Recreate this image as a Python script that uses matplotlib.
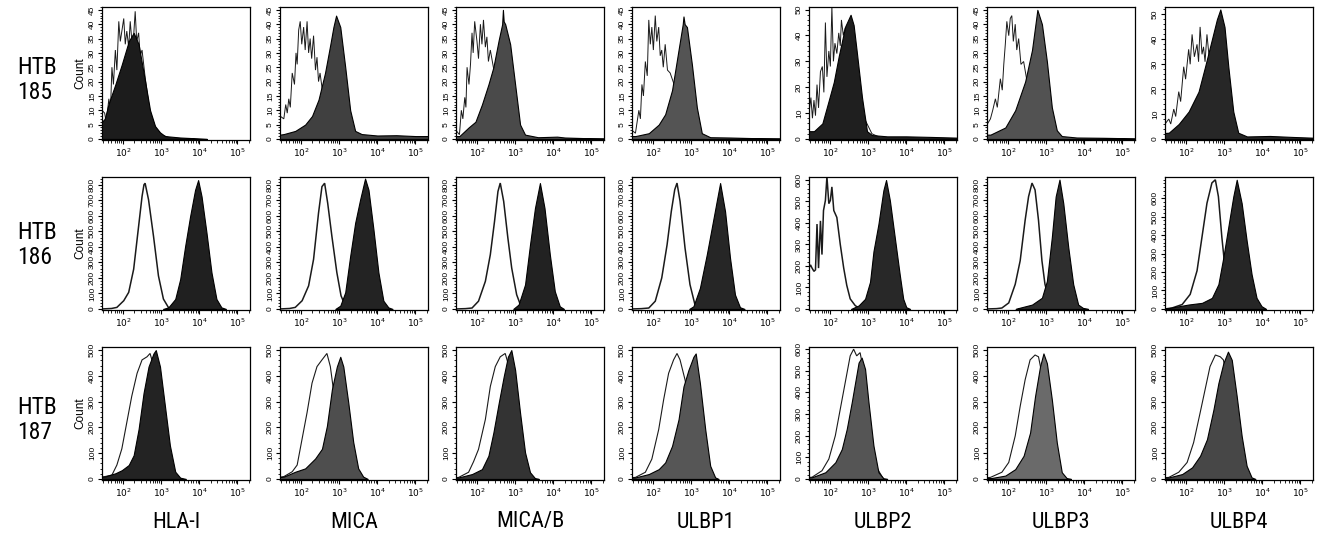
import numpy as np
import matplotlib
matplotlib.use("Agg")
import matplotlib.pyplot as plt
from matplotlib.ticker import LogLocator, MultipleLocator, FixedLocator, NullFormatter
from matplotlib import font_manager

# ---------------- data (log10 fluorescence, count) ----------------
MARKERS = ["HLA-I", "MICA", "MICA/B", "ULBP1", "ULBP2", "ULBP3", "ULBP4"]
CELL_LINES = ["HTB\n185", "HTB\n186", "HTB\n187"]

Y_MAX = [[46, 46, 46, 46, 51, 46, 53],
         [850, 850, 850, 850, 614, 850, 715],
         [512, 512, 512, 512, 610, 512, 512]]
Y_MAJOR = [[5, 5, 5, 5, 10, 5, 10],
           [100, 100, 100, 100, 100, 100, 100],
           [100, 100, 100, 100, 100, 100, 100]]
Y_MINOR = [[1, 1, 1, 1, 2, 1, 2],
           [20, 20, 20, 20, 20, 20, 20],
           [20, 20, 20, 20, 20, 20, 20]]
Y_LABEL_TOP = [[45, 45, 45, 45, 50, 45, 50],
               [800, 800, 800, 800, 600, 800, 600],
               [500, 500, 500, 500, 600, 500, 500]]

FILL_COLORS = [["#1c1c1c", "#404040", "#4a4a4a", "#545454", "#1f1f1f", "#525252", "#272727"],
               ["#202020", "#232323", "#222222", "#262626", "#282828", "#2e2e2e", "#262626"],
               ["#232323", "#4e4e4e", "#333333", "#565656", "#555555", "#6a6a6a", "#474747"]]

# HTB185 isotype control (open histograms)
HTB185_CONTROL = [
    [(1.45, 10), (1.52, 9), (1.56, 5.7), (1.63, 14), (1.67, 9), (1.71, 25), (1.75, 19), (1.8, 31),
     (1.84, 24), (1.89, 41), (1.93, 34), (2.02, 42), (2.06, 33), (2.1, 37.6), (2.15, 32), (2.19, 41),
     (2.24, 33), (2.28, 36), (2.32, 44.5), (2.36, 34), (2.41, 37), (2.45, 29), (2.5, 31), (2.58, 21.6),
     (2.7, 10), (2.85, 4), (3.0, 1.5), (3.3, 0)],
    [(1.45, 8), (1.55, 7), (1.6, 12), (1.64, 9), (1.68, 14), (1.72, 11), (1.77, 23), (1.83, 19),
     (1.87, 30), (1.9, 26), (1.94, 38), (1.98, 41), (2.02, 33), (2.07, 39), (2.11, 31), (2.16, 41),
     (2.2, 30), (2.24, 35), (2.28, 28), (2.33, 36), (2.38, 24), (2.42, 28.5), (2.46, 20), (2.5, 23),
     (2.59, 14), (2.7, 9), (2.85, 4), (3.0, 2), (3.3, 1), (3.6, 0)],
    [(1.45, 3), (1.54, 1.5), (1.59, 10), (1.63, 7), (1.68, 14.5), (1.71, 11), (1.74, 25), (1.79, 19),
     (1.83, 26), (1.87, 37), (1.9, 30), (1.94, 41), (2.0, 34), (2.04, 28), (2.09, 40), (2.13, 33),
     (2.17, 41.5), (2.22, 32), (2.26, 35.6), (2.3, 27), (2.35, 31), (2.43, 25), (2.52, 21.5),
     (2.65, 12), (2.8, 5), (3.0, 1.5), (3.3, 0)],
    [(1.45, 3), (1.54, 2), (1.63, 10), (1.67, 7), (1.71, 19), (1.75, 15), (1.8, 27), (1.85, 22),
     (1.89, 41.5), (1.93, 33), (1.97, 39), (2.01, 31), (2.06, 43), (2.1, 34), (2.15, 39), (2.19, 29),
     (2.23, 31), (2.27, 25), (2.32, 33), (2.38, 24), (2.45, 23), (2.58, 18), (2.7, 10), (2.85, 4),
     (3.0, 1.5), (3.3, 0)],
    [(1.45, 10), (1.5, 16), (1.54, 8), (1.58, 15), (1.62, 9), (1.66, 21), (1.7, 12), (1.75, 26),
     (1.8, 28), (1.84, 18), (1.88, 45), (1.92, 24), (1.97, 34), (2.01, 28), (2.05, 51), (2.09, 30),
     (2.13, 37), (2.18, 33), (2.23, 41), (2.27, 36), (2.3, 46), (2.35, 40), (2.4, 43), (2.5, 40),
     (2.7, 25), (2.9, 8), (3.1, 2), (3.4, 0)],
    [(1.45, 5), (1.54, 7), (1.6, 10), (1.67, 14), (1.72, 11), (1.8, 21), (1.85, 17), (1.89, 26),
     (1.93, 33), (1.97, 41), (2.02, 36), (2.06, 42), (2.1, 43), (2.14, 34), (2.19, 40), (2.23, 31),
     (2.28, 35), (2.34, 26), (2.41, 27), (2.5, 20), (2.62, 14), (2.75, 8), (2.9, 3), (3.1, 1), (3.4, 0)],
    [(1.45, 6), (1.55, 8), (1.6, 6), (1.68, 12), (1.73, 9), (1.81, 19), (1.86, 15), (1.94, 29),
     (1.99, 24), (2.07, 36), (2.11, 30), (2.16, 42), (2.22, 33), (2.29, 38), (2.33, 31), (2.37, 45),
     (2.42, 34), (2.46, 37), (2.5, 31), (2.55, 42), (2.6, 34), (2.75, 25), (2.9, 12), (3.1, 3), (3.4, 0)],
]
# HTB185 stained (filled histograms)
HTB185_STAINED = [
    [(1.45, 6), (1.52, 7), (1.63, 12.5), (1.8, 19), (1.97, 26), (2.15, 34), (2.28, 37), (2.41, 33),
     (2.58, 20), (2.71, 10), (2.84, 4.5), (2.97, 2.3), (3.1, 1), (3.5, 0.5), (3.8, 0.3), (4.2, 0)],
    [(1.45, 1.5), (1.55, 1.7), (1.85, 2.8), (2.11, 5), (2.29, 8), (2.46, 13.7), (2.63, 23),
     (2.77, 33), (2.85, 39), (2.92, 43), (3.03, 39), (3.16, 25), (3.29, 10), (3.42, 2.8), (3.59, 1.7),
     (4.0, 1.2), (4.5, 1.3), (5.0, 1.0), (5.33, 1.0)],
    [(1.45, 1), (1.54, 1), (1.78, 4), (1.96, 6), (2.13, 12), (2.3, 19), (2.43, 25), (2.57, 34.5),
     (2.66, 40), (2.68, 45), (2.7, 41), (2.74, 40), (2.87, 33), (3.0, 19), (3.13, 5), (3.26, 1.5),
     (3.6, 0.6), (4.1, 0.8), (4.3, 0.5), (4.8, 0.3), (5.33, 0.2)],
    [(1.45, 1), (1.54, 1), (1.89, 2), (2.15, 5), (2.32, 8.6), (2.5, 17), (2.67, 31), (2.78, 40),
     (2.8, 42.7), (2.83, 40), (2.89, 39), (3.02, 26), (3.15, 11), (3.28, 2), (3.5, 0.6), (4.0, 0.5),
     (4.6, 0.3), (5.33, 0.2)],
    [(1.45, 3), (1.58, 3), (1.8, 6), (1.97, 15), (2.1, 22), (2.23, 32), (2.4, 43.5), (2.54, 48),
     (2.62, 44), (2.7, 34), (2.84, 16), (2.97, 3), (3.1, 1.5), (3.5, 1), (4.0, 1), (4.6, 0.8),
     (5.33, 0.5)],
    [(1.45, 1.5), (1.54, 1.5), (1.93, 4), (2.19, 10), (2.45, 20), (2.63, 31), (2.71, 39), (2.77, 45),
     (2.89, 40), (3.02, 27), (3.15, 11), (3.28, 3), (3.41, 1), (3.8, 0.5), (4.5, 0.4), (5.33, 0.2)],
    [(1.45, 2.4), (1.55, 2.5), (1.81, 6), (2.07, 11), (2.33, 19), (2.5, 29), (2.68, 40), (2.81, 48),
     (2.9, 52), (3.01, 45), (3.11, 29), (3.24, 11), (3.37, 2.5), (3.6, 1), (4.2, 1.2), (4.8, 0.8),
     (5.33, 0.5)],
]
# HTB186 isotype control
HTB186_CONTROL = [
    [(1.45, 0), (1.7, 3), (1.84, 10), (2.02, 53), (2.15, 107), (2.28, 256), (2.41, 533), (2.5, 725),
     (2.55, 800), (2.58, 810), (2.67, 704), (2.8, 469), (2.93, 213), (3.06, 64), (3.19, 10), (3.3, 0)],
    [(1.45, 0), (1.7, 3), (1.85, 10), (2.03, 53), (2.2, 149), (2.33, 320), (2.46, 618), (2.55, 788),
     (2.62, 810), (2.7, 682), (2.81, 469), (2.94, 235), (3.05, 85), (3.16, 21), (3.3, 0)],
    [(1.45, 0), (1.7, 2), (1.87, 6), (2.04, 50), (2.22, 178), (2.35, 350), (2.46, 564), (2.55, 757),
     (2.61, 811), (2.7, 693), (2.81, 457), (2.91, 264), (3.04, 92), (3.17, 6), (3.3, 0)],
    [(1.45, 0), (1.7, 2), (1.89, 6), (2.06, 50), (2.23, 200), (2.37, 414), (2.48, 628), (2.57, 768),
     (2.63, 811), (2.71, 693), (2.84, 393), (2.97, 157), (3.1, 28), (3.25, 0)],
    [(1.45, 190), (1.49, 205), (1.53, 190), (1.58, 175), (1.62, 182), (1.66, 395), (1.7, 190),
     (1.75, 410), (1.79, 253), (1.83, 458), (1.88, 505), (1.92, 616), (1.97, 490), (2.01, 505),
     (2.05, 568), (2.1, 458), (2.18, 426), (2.27, 300), (2.36, 190), (2.44, 110), (2.53, 47),
     (2.66, 16), (2.79, 0)],
    [(1.45, 0), (1.7, 2), (1.84, 6), (2.02, 39), (2.19, 159), (2.32, 311), (2.45, 572), (2.54, 724),
     (2.63, 811), (2.71, 767), (2.8, 572), (2.89, 311), (2.97, 159), (3.1, 39), (3.23, 6), (3.35, 0)],
    [(1.45, 0), (1.63, 5), (1.9, 24), (2.11, 79), (2.29, 207), (2.42, 390), (2.55, 573), (2.68, 683),
     (2.77, 700), (2.85, 609), (2.94, 390), (3.03, 207), (3.11, 79), (3.24, 15), (3.35, 0)],
]
# HTB186 stained
HTB186_STAINED = [
    [(3.05, 0), (3.19, 10), (3.37, 64), (3.5, 192), (3.63, 405), (3.76, 597), (3.89, 767), (3.97, 830),
     (4.06, 725), (4.19, 490), (4.32, 235), (4.45, 64), (4.58, 10), (4.7, 0)],
    [(2.9, 0), (3.03, 21), (3.16, 107), (3.29, 341), (3.42, 554), (3.55, 704), (3.68, 840), (3.77, 767),
     (3.9, 512), (4.03, 235), (4.16, 53), (4.29, 10), (4.4, 0)],
    [(2.95, 0), (3.09, 28), (3.26, 157), (3.39, 414), (3.52, 650), (3.65, 811), (3.77, 650), (3.91, 350),
     (4.04, 114), (4.17, 17), (4.28, 0)],
    [(2.95, 0), (3.06, 17), (3.23, 135), (3.41, 350), (3.54, 521), (3.67, 693), (3.76, 811), (3.89, 628),
     (4.02, 328), (4.15, 92), (4.28, 11), (4.4, 0)],
    [(2.55, 0), (2.75, 16), (2.92, 47), (3.05, 126), (3.14, 268), (3.27, 395), (3.4, 552), (3.47, 600),
     (3.57, 505), (3.7, 331), (3.83, 158), (3.92, 47), (4.0, 8), (4.1, 0)],
    [(2.2, 0), (2.28, 6), (2.63, 28), (2.89, 72), (3.02, 180), (3.15, 463), (3.25, 724), (3.35, 833),
     (3.45, 680), (3.58, 398), (3.71, 159), (3.84, 28), (3.97, 6), (4.1, 0)],
    [(1.45, 4), (1.55, 5), (2.07, 24), (2.42, 33), (2.68, 60), (2.85, 134), (2.98, 280), (3.11, 445),
     (3.24, 609), (3.33, 700), (3.46, 573), (3.59, 371), (3.72, 188), (3.85, 60), (3.98, 15), (4.1, 0)],
]
# HTB187 isotype control
HTB187_CONTROL = [
    [(1.45, 8), (1.52, 9), (1.71, 15), (1.84, 54), (1.97, 117), (2.1, 219), (2.23, 321), (2.37, 410),
     (2.5, 462), (2.63, 474), (2.71, 487), (2.8, 440), (2.95, 250), (3.1, 80), (3.3, 10), (3.5, 0)],
    [(1.45, 7), (1.55, 9), (1.77, 28), (1.9, 54), (2.03, 156), (2.16, 258), (2.29, 372), (2.42, 436),
     (2.55, 462), (2.68, 487), (2.77, 436), (2.85, 347), (2.94, 232), (3.03, 117), (3.2, 20), (3.4, 0)],
    [(1.45, 5), (1.52, 6), (1.78, 26), (1.91, 67), (2.04, 115), (2.22, 231), (2.35, 359), (2.48, 436),
     (2.61, 474), (2.74, 487), (2.85, 430), (3.0, 250), (3.15, 80), (3.35, 5), (3.5, 0)],
    [(1.45, 5), (1.54, 6), (1.8, 26), (1.97, 77), (2.15, 192), (2.28, 308), (2.41, 410), (2.54, 462),
     (2.63, 487), (2.71, 462), (2.84, 385), (2.95, 300), (3.1, 120), (3.3, 15), (3.45, 0)],
    [(1.45, 7), (1.53, 8), (1.79, 38), (1.97, 92), (2.14, 200), (2.27, 323), (2.4, 446), (2.53, 569),
     (2.62, 600), (2.7, 569), (2.79, 584), (2.9, 480), (3.05, 250), (3.2, 60), (3.4, 0)],
    [(1.45, 5), (1.54, 6), (1.84, 26), (2.02, 64), (2.19, 167), (2.32, 282), (2.45, 385), (2.58, 462),
     (2.71, 481), (2.8, 474), (2.9, 400), (3.05, 200), (3.2, 50), (3.4, 0)],
    [(1.45, 5), (1.55, 6), (1.81, 26), (2.03, 64), (2.2, 141), (2.37, 256), (2.5, 346), (2.63, 436),
     (2.77, 481), (2.9, 474), (2.98, 462), (3.1, 380), (3.3, 150), (3.5, 30), (3.7, 0)],
]
# HTB187 stained
HTB187_STAINED = [
    [(1.45, 8), (1.52, 9), (1.8, 22), (1.97, 34), (2.15, 54), (2.28, 92), (2.41, 194), (2.54, 334),
     (2.67, 436), (2.8, 487), (2.86, 500), (2.97, 436), (3.1, 283), (3.23, 130), (3.37, 28), (3.5, 5),
     (3.65, 0)],
    [(1.45, 7), (1.55, 9), (1.85, 28), (2.11, 41), (2.37, 79), (2.55, 117), (2.68, 206), (2.81, 347),
     (2.94, 436), (3.03, 474), (3.11, 436), (3.24, 296), (3.37, 143), (3.5, 41), (3.63, 9), (3.75, 0)],
    [(1.45, 5), (1.52, 6), (1.87, 19), (2.13, 38), (2.3, 90), (2.43, 180), (2.57, 295), (2.7, 397),
     (2.81, 474), (2.9, 500), (3.0, 423), (3.13, 256), (3.26, 103), (3.39, 26), (3.52, 3), (3.62, 0)],
    [(1.45, 5), (1.54, 6), (1.89, 19), (2.15, 38), (2.32, 64), (2.5, 128), (2.67, 231), (2.8, 359),
     (2.93, 423), (3.06, 474), (3.12, 487), (3.23, 372), (3.37, 192), (3.5, 51), (3.63, 6), (3.72, 0)],
    [(1.45, 7), (1.53, 8), (1.88, 31), (2.14, 77), (2.31, 138), (2.44, 231), (2.57, 354), (2.66, 446),
     (2.75, 538), (2.83, 561), (2.92, 508), (3.01, 354), (3.14, 154), (3.27, 31), (3.4, 3), (3.5, 0)],
    [(1.45, 3), (1.54, 3), (1.93, 13), (2.19, 38), (2.41, 90), (2.58, 180), (2.71, 321), (2.84, 436),
     (2.93, 487), (3.02, 449), (3.15, 308), (3.28, 141), (3.41, 26), (3.54, 3), (3.65, 0)],
    [(1.45, 5), (1.55, 6), (1.9, 19), (2.16, 45), (2.37, 90), (2.55, 154), (2.72, 269), (2.85, 372),
     (2.98, 449), (3.1, 494), (3.2, 462), (3.33, 321), (3.46, 167), (3.59, 51), (3.72, 6), (3.82, 0)],
]

CONTROL = [HTB185_CONTROL, HTB186_CONTROL, HTB187_CONTROL]
STAINED = [HTB185_STAINED, HTB186_STAINED, HTB187_STAINED]
CONTROL_LW = [0.7, 1.1, 0.8]

# ---------------- layout ----------------
W, H = 1326, 539
COL_LEFT = [102, 280, 456, 632, 809, 987, 1165]
PANEL_W = 148
ROW_TOP = [7, 177, 347]
PANEL_H = 133
ROW_LABEL_Y = [80, 245, 420]
MARKER_Y = 522

available = {f.name for f in font_manager.fontManager.ttflist}
narrow_candidates = ["Liberation Sans Narrow", "Roboto Condensed", "Open Sans Condensed",
                     "Noto Sans Condensed", "DejaVu Sans Condensed"]
label_font = next((n for n in narrow_candidates if n in available), "Open Sans")
label_stretch = "normal"
if label_font == "DejaVu Sans Condensed":
    label_font = "Open Sans"
noto_condensed = any(f.name == "Noto Sans" and str(f.stretch) not in ("normal", "400")
                     for f in font_manager.fontManager.ttflist)
if label_font == "Open Sans" and noto_condensed:
    label_font = "Noto Sans"
    label_stretch = "condensed"
tick_font = "Liberation Sans" if "Liberation Sans" in available else "DejaVu Sans"

fig = plt.figure(figsize=(W / 100, H / 100), dpi=100)
fig.patch.set_facecolor("white")

for r in range(3):
    for c in range(7):
        left = COL_LEFT[c] / W
        bottom = 1 - (ROW_TOP[r] + PANEL_H) / H
        ax = fig.add_axes([left, bottom, PANEL_W / W, PANEL_H / H])
        ctrl = np.array(CONTROL[r][c], dtype=float)
        stn = np.array(STAINED[r][c], dtype=float)
        ax.plot(10 ** ctrl[:, 0], ctrl[:, 1], color="#1a1a1a", lw=CONTROL_LW[r], zorder=2,
                solid_joinstyle="miter")
        ax.fill_between(10 ** stn[:, 0], stn[:, 1], 0, facecolor=FILL_COLORS[r][c],
                        edgecolor="black", lw=0.8, zorder=3)
        ax.set_xscale("log")
        ax.set_xlim(10 ** 1.45, 10 ** 5.33)
        ymax = Y_MAX[r][c]
        ax.set_ylim(-ymax * 0.008, ymax)

        ax.xaxis.set_major_locator(FixedLocator([1e2, 1e3, 1e4, 1e5]))
        ax.xaxis.set_minor_locator(LogLocator(base=10, subs=np.arange(2, 10), numticks=20))
        ax.xaxis.set_minor_formatter(NullFormatter())
        ax.set_xticklabels([r"$10^{2}$", r"$10^{3}$", r"$10^{4}$", r"$10^{5}$"])

        step = Y_MAJOR[r][c]
        yt = np.arange(0, Y_LABEL_TOP[r][c] + 1, step)
        ax.set_yticks(yt)
        ax.set_yticklabels([str(int(v)) for v in yt])
        ax.yaxis.set_minor_locator(MultipleLocator(Y_MINOR[r][c]))

        ax.tick_params(axis="both", which="major", direction="out", length=3.2, width=0.8,
                       pad=1.2, color="black")
        ax.tick_params(axis="x", which="major", labelsize=6.5)
        ax.tick_params(axis="y", which="major", labelsize=6)
        ax.tick_params(axis="both", which="minor", direction="out", length=1.8, width=0.6,
                       color="black")
        for lab in ax.get_yticklabels():
            lab.set_rotation(90)
            lab.set_va("center")
            lab.set_family(tick_font)
        for lab in ax.get_xticklabels():
            lab.set_family(tick_font)
        for sp in ax.spines.values():
            sp.set_linewidth(0.9)
            sp.set_color("black")
        if c == 0:
            ax.set_ylabel("Count", fontsize=8.5, labelpad=1.5, family=tick_font)

for r in range(3):
    fig.text(17 / W, 1 - ROW_LABEL_Y[r] / H, CELL_LINES[r], ha="left", va="center",
             fontsize=17, linespacing=1.1, family=[label_font, "DejaVu Sans"],
             fontstretch=label_stretch)

for c in range(7):
    cx = (COL_LEFT[c] + PANEL_W / 2) / W
    fig.text(cx, 1 - MARKER_Y / H, MARKERS[c], ha="center", va="center",
             fontsize=16, family=[label_font, "DejaVu Sans"], fontstretch=label_stretch)

fig.savefig("out.png", dpi=100, facecolor="white")
